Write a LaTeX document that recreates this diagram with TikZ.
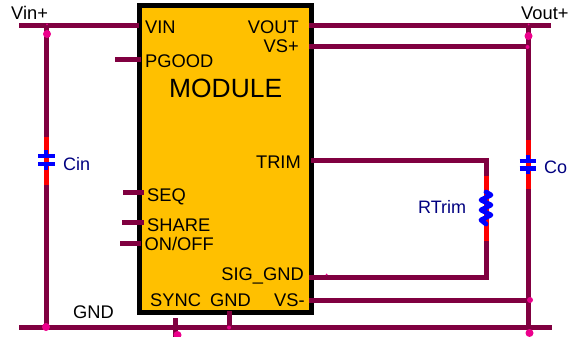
\documentclass[tikz,border=0pt]{standalone}
\usepackage{fontspec}
\setmainfont{Liberation Sans}
\definecolor{wirec}{RGB}{128,0,64}
\definecolor{modc}{RGB}{255,192,0}
\definecolor{labc}{RGB}{0,0,128}
\tikzset{
  wire/.style={draw=wirec,line width=5pt},
  lead/.style={draw=red,line width=5pt},
  part/.style={draw=blue,line width=4.8pt},
  junc/.style={circle,fill=magenta,inner sep=0pt,minimum size=#1},
  txt/.style={inner sep=0pt,font=\fontsize{18.3}{20}\selectfont,text=black},
  lab/.style={inner sep=0pt,font=\fontsize{18}{20}\selectfont,text=labc},
}
\begin{document}
\begin{tikzpicture}[x=1pt,y=-1pt]
\useasboundingbox (0,0) rectangle (574,337);
% module
\node[draw=black,fill=modc,line width=5pt,minimum width=172pt,minimum height=307pt,inner sep=0pt,anchor=north west] (module) at (137,3.3) {};
% anchor points
\coordinate (vinL) at (19,26);
\coordinate (vinT) at (46,26);
\coordinate (vinP) at (139,26);
\coordinate (gndL) at (19,327);
\coordinate (gndT) at (46,327);
\coordinate (gndR) at (552,327);
\coordinate (gndO) at (528,327);
\coordinate (voutR) at (551,26);
\coordinate (voutT) at (528,26);
\coordinate (voutP) at (309,26);
\coordinate (vspP) at (309,47);
\coordinate (vspT) at (528,47);
\coordinate (trimP) at (311,161);
\coordinate (trimC) at (486,161);
\coordinate (sigP) at (309,277);
\coordinate (sigC) at (486,277);
\coordinate (vsmP) at (309,300);
\coordinate (vsmT) at (528,300);
\coordinate (pgP) at (141,60); \coordinate (pgE) at (115,60);
\coordinate (seqP) at (144,193); \coordinate (seqE) at (123,193);
\coordinate (shP) at (144,222); \coordinate (shE) at (122,222);
\coordinate (onP) at (141,243); \coordinate (onE) at (120,243);
\coordinate (syncT) at (175.5,318); \coordinate (syncB) at (175.5,337);
\coordinate (gpT) at (229,311); \coordinate (gpB) at (229,327);
% Cin
\coordinate (cinA) at (46,137); \coordinate (cinB) at (46,185);
\coordinate (cinP) at (46,156); \coordinate (cinQ) at (46,164);
% Co
\coordinate (coA) at (528,140); \coordinate (coB) at (528,189);
\coordinate (coP) at (528,161); \coordinate (coQ) at (528,168.5);
% RTrim
\coordinate (rA) at (486,176); \coordinate (rB) at (486,241);
\coordinate (rT) at (486,192); \coordinate (rU) at (486,224);
% wires
\draw[wire] (vinL) -- (vinP);
\draw[wire] (gndL) -- (gndR);
\draw[wire] (voutP) -- (voutR);
\draw[wire] (vspP) -- (vspT);
\draw[wire] (vsmP) -- (vsmT);
\draw[wire] (pgE) -- (pgP);
\draw[wire] (seqE) -- (seqP);
\draw[wire] (shE) -- (shP);
\draw[wire] (onE) -- (onP);
\draw[wire] (syncT) -- (syncB);
\draw[wire] (gpT) -- (gpB);
\draw[wire] (vinT) -- (cinA);
\draw[wire] (cinB) -- (gndT);
\draw[wire] (voutT) -- (coA);
\draw[wire] (coB) -- (gndO);
\draw[wire,line join=miter] (trimP) -- (trimC) -- (rA);
\draw[wire,line join=miter] (sigP) -- (sigC) -- (rB);
% red leads
\draw[lead] (cinA) -- (cinB);
\draw[lead] (coA) -- (coB);
\draw[lead] (rA) -- (rB);
% capacitors
\draw[part] (38,156) -- (55,156) (38,164) -- (55,164);
\draw[part] (cinP)+(0,-6) -- (cinP) (cinQ) -- +(0,6);
\draw[part] (519.5,161) -- (536,161) (519.5,168.5) -- (536,168.5);
\draw[part] (coP)+(0,-6) -- (coP) (coQ) -- +(0,6);
% resistor
\draw[part,line join=round,line cap=round] (rT) -- (491,195) -- (481,200) -- (491,205) -- (481,210) -- (491,215) -- (481,220) -- (rU);
% junctions
\node[junc=8pt] (j1) at (47,34) {};
\node[junc=8pt] (j2) at (46,327) {};
\node[junc=8pt] (j3) at (528.5,36) {};
\node[junc=4pt] (j4) at (527.5,47) {};
\node[junc=6pt] (j5) at (530,300) {};
\node[junc=8pt] (j6) at (529.5,333) {};
\node[junc=8pt] (j7) at (177.5,335) {};
\node[junc=4pt] (j8) at (229,327.5) {};
\node[junc=2pt] (j9) at (47,24.5) {};
\node[junc=2pt] (j10) at (528.5,24.5) {};
\node[junc=2pt] (j11) at (326.5,274.5) {};
% labels
\node[txt,anchor=base west] (t1) at (11,20) {Vin+};
\node[txt,anchor=base west] (t2) at (145,34) {VIN};
\node[txt,anchor=base east] (t3) at (299,34) {VOUT};
\node[txt,anchor=base east] (t4) at (299,53) {VS+};
\node[txt,anchor=base west] (t5) at (145,68) {PGOOD};
\node[txt,anchor=base west,font=\fontsize{26.4}{30}\selectfont] (t6) at (169,98) {MODULE};
\node[txt,anchor=base east] (t7) at (301,168) {TRIM};
\node[txt,anchor=base west] (t8) at (147,201) {SEQ};
\node[txt,anchor=base west] (t9) at (147,231) {SHARE};
\node[txt,anchor=base west] (t10) at (144.5,251) {ON/OFF};
\node[txt,anchor=base east] (t11) at (304,280) {SIG\_GND};
\node[txt,anchor=base west] (t12) at (150,306) {SYNC};
\node[txt,anchor=base west] (t13) at (210,306) {GND};
\node[txt,anchor=base west] (t14) at (274,306) {VS-};
\node[txt,anchor=base west] (t15) at (73,318) {GND};
\node[txt,anchor=base west] (t16) at (521,20) {Vout+};
\node[lab,anchor=base west] (t17) at (63,171) {Cin};
\node[lab,anchor=base west] (t18) at (544,174) {Co};
\node[lab,anchor=base west] (t19) at (418,214) {RTrim};
\end{tikzpicture}
\end{document}
